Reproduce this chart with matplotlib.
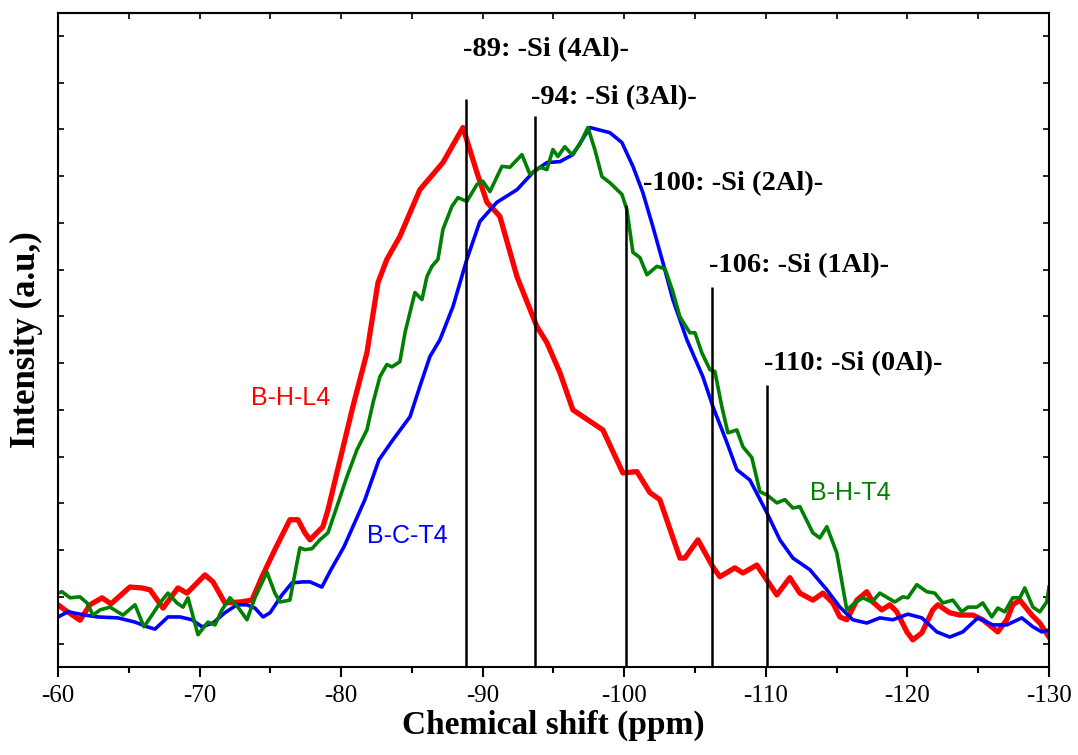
import matplotlib
matplotlib.use('Agg')
import matplotlib.pyplot as plt
import numpy as np

plt.rcParams['axes.unicode_minus'] = False

# B-H-L4 (red)
bhl4_ppm = [-60.0, -60.49, -61.55, -62.26, -63.11, -63.74, -65.08, -65.93, -66.50, -67.42,
            -68.47, -69.11, -70.38, -70.95, -71.79, -72.85, -73.70, -74.41, -75.32, -76.38,
            -76.95, -77.44, -77.80, -78.71, -79.07, -79.92, -80.83, -81.82, -82.60, -83.23,
            -84.15, -85.56, -87.19, -88.60, -89.59, -90.30, -91.21, -92.42, -93.83, -94.53,
            -95.45, -96.37, -98.49, -99.90, -100.89, -101.81, -102.51, -103.93, -104.28, -105.20,
            -106.26, -106.75, -107.81, -108.38, -109.36, -110.07, -110.78, -111.69, -112.40, -113.32,
            -114.03, -114.73, -115.23, -115.72, -116.43, -117.13, -117.56, -118.19, -118.76, -119.25,
            -119.96, -120.38, -121.02, -121.79, -122.15, -122.99, -123.70, -124.62, -125.32, -126.38,
            -127.02, -127.44, -127.94, -128.79, -129.35, -130.0]
bhl4_int = [1.33, 1.22, 1.00, 1.33, 1.48, 1.35, 1.71, 1.69, 1.65, 1.26,
            1.69, 1.58, 1.97, 1.82, 1.37, 1.39, 1.43, 1.93, 2.51, 3.15,
            3.15, 2.87, 2.72, 3.00, 3.36, 4.43, 5.57, 6.72, 8.22, 8.72,
            9.21, 10.21, 10.79, 11.54, 10.58, 9.94, 9.64, 8.35, 7.28, 6.94,
            6.30, 5.50, 5.07, 4.15, 4.18, 3.73, 3.58, 2.33, 2.33, 2.72,
            2.14, 1.93, 2.12, 2.01, 2.18, 1.86, 1.54, 1.91, 1.58, 1.43,
            1.58, 1.37, 1.07, 1.01, 1.43, 1.61, 1.39, 1.22, 1.33, 1.18,
            0.75, 0.58, 0.73, 1.22, 1.33, 1.16, 1.11, 1.11, 1.01, 0.75,
            1.01, 1.33, 1.43, 1.11, 0.94, 0.64]

# B-C-T4 (blue)
bct4_ppm = [-60.0, -60.71, -61.91, -62.82, -64.24, -65.44, -66.29, -66.85, -67.77, -68.62,
            -69.46, -70.17, -70.95, -71.79, -72.64, -73.35, -73.91, -74.48, -74.98, -75.82,
            -76.53, -77.30, -77.80, -78.64, -79.28, -80.20, -81.68, -82.67, -83.66, -84.86,
            -85.56, -86.27, -86.98, -87.90, -88.88, -89.80, -91.00, -92.42, -93.55, -94.53,
            -95.45, -96.37, -97.57, -98.98, -99.83, -100.61, -101.31, -102.02, -102.73, -103.43,
            -104.42, -105.55, -106.26, -107.25, -107.95, -108.87, -110.07, -110.99, -111.91, -113.11,
            -114.31, -115.23, -116.14, -117.13, -118.05, -118.97, -120.03, -121.02, -122.08, -122.99,
            -123.91, -124.97, -126.03, -127.02, -128.08, -128.86, -129.49, -130.0]
bct4_int = [1.07, 1.18, 1.11, 1.07, 1.05, 0.96, 0.86, 0.81, 1.07, 1.07,
            1.01, 0.86, 0.94, 1.16, 1.33, 1.33, 1.26, 1.07, 1.16, 1.54,
            1.80, 1.82, 1.82, 1.71, 2.08, 2.57, 3.58, 4.43, 4.86, 5.35,
            6.00, 6.64, 7.00, 7.71, 8.72, 9.53, 9.94, 10.21, 10.58, 10.79,
            10.81, 10.96, 11.54, 11.43, 11.22, 10.71, 10.15, 9.42, 8.65, 7.86,
            7.00, 6.21, 5.57, 4.80, 4.22, 4.00, 3.30, 2.72, 2.33, 2.08,
            1.65, 1.28, 1.01, 0.94, 1.05, 1.01, 1.13, 1.05, 0.75, 0.64,
            0.75, 1.05, 0.90, 0.90, 1.05, 0.86, 0.75, 0.79]

# B-H-T4 (green)
bht4_ppm = [-60.0, -60.28, -60.85, -61.55, -62.05, -62.47, -62.97, -63.67, -64.59, -65.44,
            -66.07, -66.64, -67.20, -67.77, -68.40, -68.83, -69.18, -69.89, -70.59, -71.09,
            -71.58, -72.15, -72.71, -73.35, -73.91, -74.76, -75.32, -75.68, -76.38, -76.88,
            -77.09, -77.44, -77.94, -78.50, -79.07, -79.70, -80.41, -81.12, -81.82, -82.25,
            -82.74, -83.23, -83.59, -84.15, -84.51, -84.86, -85.21, -85.71, -86.06, -86.41,
            -86.84, -87.19, -87.82, -88.25, -88.88, -89.59, -90.01, -90.51, -91.36, -91.92,
            -92.77, -93.33, -94.04, -94.53, -94.96, -95.31, -95.80, -96.30, -96.86, -97.43,
            -97.92, -98.42, -98.98, -99.83, -100.18, -100.61, -101.10, -101.60, -102.30, -102.87,
            -103.43, -103.93, -104.63, -104.99, -105.48, -106.05, -106.40, -106.89, -107.32, -107.95,
            -108.38, -109.01, -109.58, -110.07, -110.78, -111.34, -111.91, -112.40, -113.32, -113.81,
            -114.31, -115.01, -115.72, -116.28, -116.85, -117.49, -118.05, -119.11, -119.67, -120.03,
            -120.66, -121.37, -121.93, -122.50, -123.21, -123.84, -124.27, -124.90, -125.32, -125.96,
            -126.38, -126.88, -127.44, -127.94, -128.29, -128.86, -129.35, -129.84, -130.0]
bht4_int = [1.58, 1.61, 1.48, 1.50, 1.37, 1.11, 1.22, 1.28, 1.11, 1.33,
            0.86, 1.11, 1.37, 1.58, 1.37, 1.28, 1.48, 0.69, 0.96, 0.90,
            1.22, 1.48, 1.28, 1.01, 1.48, 2.03, 1.58, 1.39, 1.43, 2.23,
            2.55, 2.51, 2.53, 2.72, 2.87, 3.43, 4.07, 4.65, 5.07, 5.65,
            6.21, 6.47, 6.42, 6.53, 7.15, 7.58, 8.01, 7.86, 8.35, 8.57,
            8.72, 9.36, 9.85, 10.04, 9.96, 10.32, 10.39, 10.17, 10.71, 10.69,
            10.96, 10.54, 10.69, 10.64, 11.07, 10.92, 11.13, 10.96, 11.18, 11.54,
            11.07, 10.49, 10.36, 10.11, 9.79, 8.87, 8.76, 8.39, 8.57, 8.52,
            8.03, 7.49, 7.15, 7.15, 6.72, 6.36, 6.32, 5.57, 5.01, 5.07,
            4.71, 4.48, 3.75, 3.68, 3.51, 3.58, 3.40, 3.43, 2.87, 2.76,
            3.00, 2.44, 1.22, 1.37, 1.48, 1.39, 1.58, 1.39, 1.50, 1.48,
            1.76, 1.61, 1.58, 1.37, 1.43, 1.18, 1.28, 1.28, 1.37, 1.07,
            1.26, 1.18, 1.48, 1.48, 1.69, 1.28, 1.18, 1.39, 1.71]

# peak assignment markers
mark_ppm = [-88.8, -93.7, -100.1, -106.2, -110.1]
mark_top = [12.14, 11.78, 9.89, 8.12, 6.04]
mark_text = ['-89: -Si (4Al)-', '-94: -Si (3Al)-', '-100: -Si (2Al)-',
             '-106: -Si (1Al)-', '-110: -Si (0Al)-']
mark_text_xy = [(-88.6, 13.06), (-93.4, 12.03), (-101.3, 10.21),
                (-106.0, 8.44), (-109.9, 6.36)]

serif = 'Liberation Serif'
sans = 'Liberation Sans'

fig = plt.figure(figsize=(10.78, 7.55), dpi=100)
ax = fig.add_axes([0.0538, 0.1166, 0.9193, 0.8668])

ax.plot(bhl4_ppm, bhl4_int, color='#ff0000', lw=3.8, solid_joinstyle='round')
ax.plot(bct4_ppm, bct4_int, color='#0000ff', lw=2.6, solid_joinstyle='round')
ax.plot(bht4_ppm, bht4_int, color='#008000', lw=2.6, solid_joinstyle='round')

ax.vlines(mark_ppm, 0, mark_top, colors='black', lw=1.8)
for (tx, ty), s in zip(mark_text_xy, mark_text):
    ax.text(tx, ty, s, fontfamily=serif, fontweight='bold', fontsize=20.5,
            ha='left', va='baseline')

ax.text(-76.4, 5.76, 'B-H-L4', color='#ff0000', fontfamily=sans, fontsize=18,
        ha='center', va='center')
ax.text(-84.7, 2.81, 'B-C-T4', color='#0000ff', fontfamily=sans, fontsize=18,
        ha='center', va='center')
ax.text(-116.0, 3.73, 'B-H-T4', color='#008000', fontfamily=sans, fontsize=18,
        ha='center', va='center')

ax.set_xlim(-60, -130)
ax.set_ylim(0, 14)
ax.set_xticks(np.arange(-60, -131, -10))
ax.set_xticks(np.arange(-65, -130, -10), minor=True)
ax.set_yticks(np.arange(0.5, 14, 1))
ax.set_yticklabels([])

for sp in ax.spines.values():
    sp.set_linewidth(1.5)

ax.tick_params(axis='x', which='major', direction='out', length=7, width=1.5,
               pad=6, labelsize=18)
ax.tick_params(axis='x', which='minor', direction='out', length=4, width=1.5)
ax.tick_params(axis='y', which='major', direction='in', length=4, width=1.2,
               left=True, right=True)
for lb in ax.get_xticklabels():
    lb.set_fontfamily(serif)

top = ax.secondary_xaxis('top')
top.set_xticks(np.arange(-60, -131, -5))
top.set_xticklabels([])
top.tick_params(direction='in', length=4, width=1.2)
top.spines['top'].set_linewidth(1.5)

ax.set_xlabel('Chemical shift (ppm)', fontfamily=serif, fontweight='bold',
              fontsize=24, labelpad=2)
ax.set_ylabel('Intensity (a.u,)', fontfamily=serif, fontweight='bold',
              fontsize=25, labelpad=7)

fig.savefig('out.png', dpi=100)
